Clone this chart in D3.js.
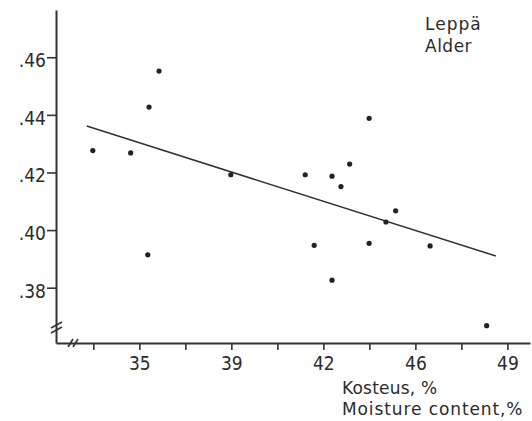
<!DOCTYPE html>
<html>
<head>
    <meta charset="utf-8">
    <script src="https://d3js.org/d3.v7.min.js"></script>
    <style>
        body { margin: 0; background: #fff; }
        text { font-family: "DejaVu Sans Condensed", "Liberation Sans Narrow", "DejaVu Sans", sans-serif; fill: #2b2b2b; }
        text.lbl { font-family: "DejaVu Sans", sans-serif; }
    </style>
</head>
<body>
<div id="chart"></div>
<script>
    // moisture content (%) and density
    var moisture = [33.23, 34.67, 35.37, 35.75, 35.32, 38.48, 41.31, 42.33, 42.67, 43.00,
                    41.65, 42.33, 43.74, 44.75, 44.38, 43.74, 46.06, 48.21];
    var density  = [0.4276, 0.4268, 0.4427, 0.4552, 0.3914, 0.4192, 0.4192, 0.4187, 0.4151, 0.4229,
                    0.3947, 0.3826, 0.4388, 0.4067, 0.4028, 0.3954, 0.3945, 0.3668];

    // regression line end points
    var fitX = [33.0, 48.56];
    var fitY = [0.4361, 0.3910];

    var xTicks = [33.25, 35, 36.75, 38.5, 40.25, 42, 43.75, 45.5, 47.25, 49];
    var xTickLabels = ["", "35", "", "39", "", "42", "", "46", "", "49"];
    var yTicks = [0.38, 0.40, 0.42, 0.44, 0.46];
    var yTickLabels = [".38", ".40", ".42", ".44", ".46"];

    var width = 532, height = 421;
    var plot = { left: 56, right: 530, top: 10, bottom: 343 };

    var svg = d3.select("#chart").append("svg")
        .attr("width", width)
        .attr("height", height);

    var x = d3.scaleLinear().domain([31.83, 49.86]).range([plot.left, plot.right]);
    var y = d3.scaleLinear().domain([0.3608, 0.4764]).range([plot.bottom, plot.top]);

    var axisColor = "#333";

    // x axis
    var gx = svg.append("g")
        .attr("transform", "translate(0," + plot.bottom + ")")
        .call(d3.axisBottom(x)
            .tickValues(xTicks)
            .tickSize(7)
            .tickSizeOuter(0)
            .tickPadding(7)
            .tickFormat(function (d, i) { return xTickLabels[i]; }));
    gx.select(".domain").attr("stroke", axisColor).attr("stroke-width", 2);
    gx.selectAll(".tick line").attr("stroke", axisColor).attr("stroke-width", 1.6);
    gx.selectAll(".tick text").attr("font-size", 19).attr("font-family", null).attr("fill", "#2b2b2b");

    // y axis
    var gy = svg.append("g")
        .attr("transform", "translate(" + plot.left + ",0)")
        .call(d3.axisLeft(y)
            .tickValues(yTicks)
            .tickSize(9)
            .tickSizeOuter(0)
            .tickPadding(1)
            .tickFormat(function (d, i) { return yTickLabels[i]; }));
    gy.select(".domain").attr("stroke", axisColor).attr("stroke-width", 2);
    gy.selectAll(".tick line").attr("stroke", axisColor).attr("stroke-width", 1.6);
    gy.selectAll(".tick text").attr("font-size", 19).attr("font-family", null)
        .attr("fill", "#2b2b2b").attr("dy", "0.5em");

    // axis breaks
    var breaks = svg.append("g").attr("stroke", axisColor).attr("stroke-width", 1.6).attr("fill", "none");
    [0, 5].forEach(function (o) {
        breaks.append("line")
            .attr("x1", plot.left - 5).attr("y1", plot.bottom - 15 + o)
            .attr("x2", plot.left + 6).attr("y2", plot.bottom - 21 + o);
        breaks.append("line")
            .attr("x1", plot.left + 12 + o).attr("y1", plot.bottom + 4)
            .attr("x2", plot.left + 17 + o).attr("y2", plot.bottom - 4);
    });

    // regression line
    svg.append("path")
        .datum(d3.zip(fitX, fitY))
        .attr("fill", "none")
        .attr("stroke", "#333")
        .attr("stroke-width", 1.5)
        .attr("d", d3.line()
            .x(function (d) { return x(d[0]); })
            .y(function (d) { return y(d[1]); }));

    // points
    svg.selectAll("circle.pt")
        .data(d3.zip(moisture, density))
        .enter()
        .append("circle")
        .attr("class", "pt")
        .attr("cx", function (d) { return x(d[0]); })
        .attr("cy", function (d) { return y(d[1]); })
        .attr("r", 2.6)
        .attr("fill", "#222");

    // species label
    svg.append("text").attr("class", "lbl").attr("x", 425).attr("y", 30)
        .attr("font-size", 17).attr("letter-spacing", 1).text("Leppä");
    svg.append("text").attr("class", "lbl").attr("x", 425).attr("y", 52)
        .attr("font-size", 17).attr("letter-spacing", 0.5).text("Alder");

    // axis title
    svg.append("text").attr("class", "lbl").attr("x", 342).attr("y", 394)
        .attr("font-size", 17).attr("letter-spacing", 0.2).text("Kosteus, %");
    svg.append("text").attr("class", "lbl").attr("x", 342).attr("y", 415)
        .attr("font-size", 17).attr("letter-spacing", 0.9).text("Moisture content,%");
</script>
</body>
</html>
